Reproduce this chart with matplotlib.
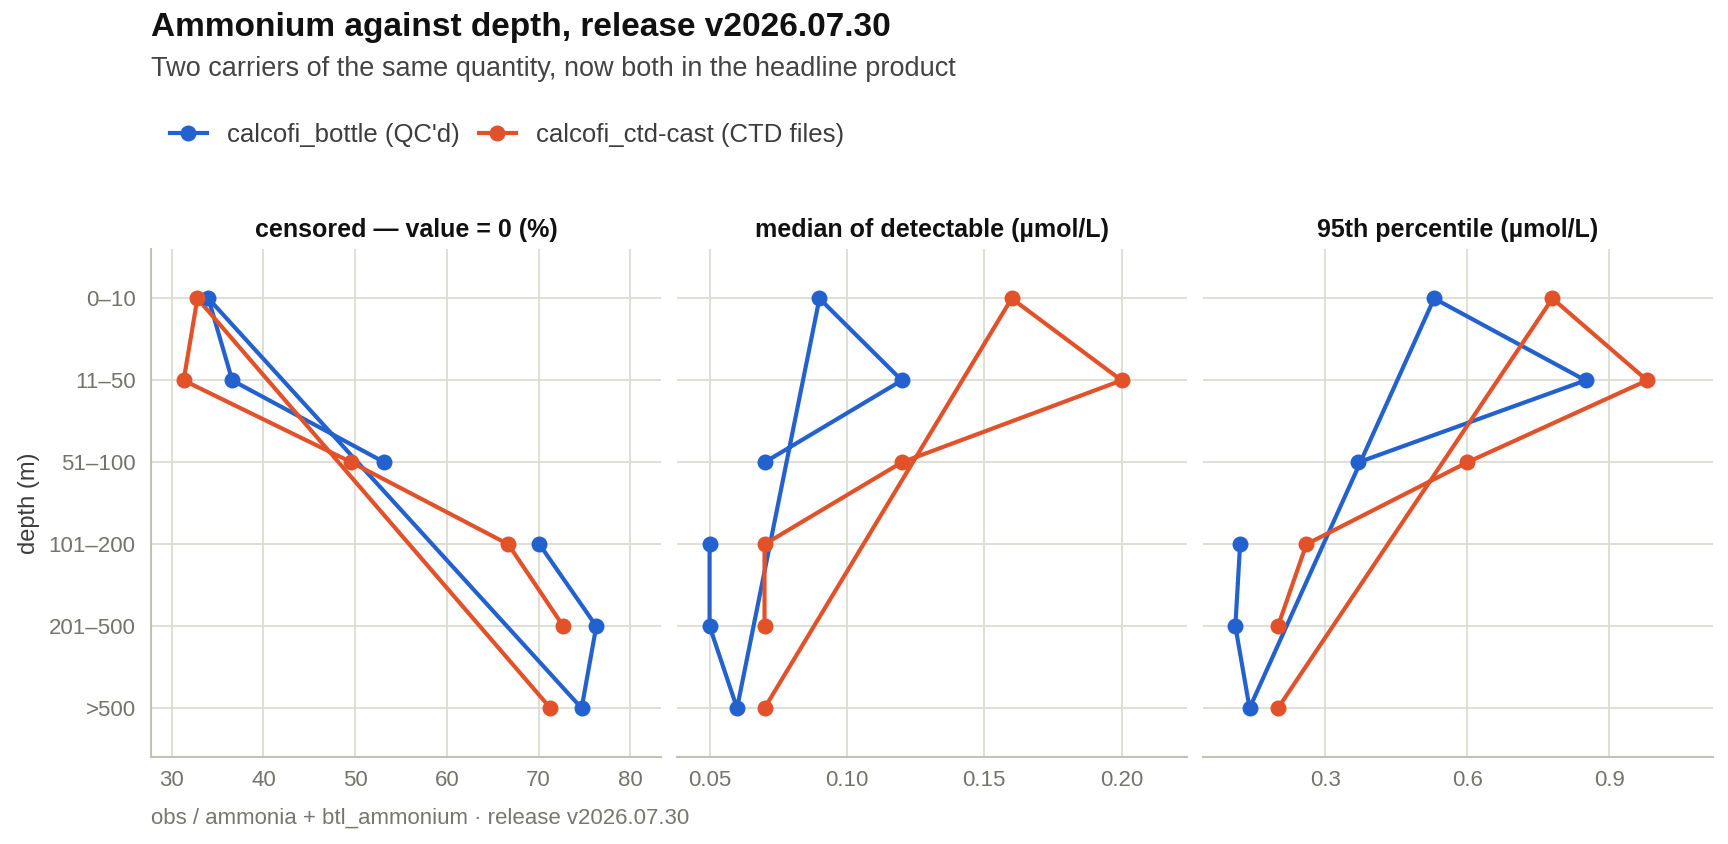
"""Ammonium against depth: two carriers, three summary panels."""

import matplotlib
matplotlib.use('Agg')
import matplotlib.pyplot as plt
from matplotlib.lines import Line2D

plt.rcParams['font.family'] = ['Liberation Sans', 'DejaVu Sans']

depth_bins = ['0–10', '11–50', '51–100', '101–200', '201–500', '>500']
# order in which each carrier's path visits the bins (as drawn in the source)
bottle_path = ['101–200', '201–500', '>500', '0–10', '11–50', '51–100']
ctd_path = ['>500', '0–10', '11–50', '51–100', '101–200', '201–500']

series_names = ["calcofi_bottle (QC'd)", 'calcofi_ctd-cast (CTD files)']
series_colors = ['#2361cf', '#e2522a']
series_paths = [bottle_path, ctd_path]

panel_titles = ['censored — value = 0 (%)',
                'median of detectable (µmol/L)',
                '95th percentile (µmol/L)']

censored_bottle = [34.0, 36.6, 53.2, 70.1, 76.3, 74.7]
censored_ctd = [32.8, 31.3, 49.6, 66.7, 72.7, 71.3]
median_bottle = [0.09, 0.12, 0.07, 0.05, 0.05, 0.06]
median_ctd = [0.16, 0.20, 0.12, 0.07, 0.07, 0.07]
p95_bottle = [0.53, 0.85, 0.37, 0.12, 0.11, 0.14]
p95_ctd = [0.78, 0.98, 0.60, 0.26, 0.20, 0.20]

x_ticks = [[30, 40, 50, 60, 70, 80], [0.05, 0.10, 0.15, 0.20], [0.3, 0.6, 0.9]]
x_ticklabels = [['30', '40', '50', '60', '70', '80'],
                ['0.05', '0.10', '0.15', '0.20'],
                ['0.3', '0.6', '0.9']]
x_limits = [(27.74, 83.39), (0.0381, 0.2239), (0.0412, 1.1194)]

panels = [(censored_bottle, censored_ctd),
          (median_bottle, median_ctd),
          (p95_bottle, p95_ctd)]

W, H = 1728, 844
grid_col = '#dcdcd2'
axis_col = '#c2c2b6'
tick_col = '#74746c'

fig = plt.figure(figsize=(W / 100, H / 100), dpi=100)

panel_left = [151, 676.9, 1202.8]
panel_w = 510.3
panel_top, panel_bot = 249.3, 757.3

ypos = {d: i for i, d in enumerate(depth_bins)}

for k, (vals, title) in enumerate(zip(panels, panel_titles)):
    ax = fig.add_axes([panel_left[k] / W, 1 - panel_bot / H,
                       panel_w / W, (panel_bot - panel_top) / H])
    for j, v in enumerate(vals):
        idx = [ypos[d] for d in series_paths[j]]
        ax.plot([v[i] for i in idx], idx, color=series_colors[j], lw=3.0,
                zorder=3, solid_capstyle='butt', solid_joinstyle='round')
    for j, v in enumerate(vals):
        ax.plot(v, range(len(depth_bins)), 'o', color=series_colors[j],
                ms=11.5, mew=0, zorder=4)

    ax.set_xlim(*x_limits[k])
    ax.set_ylim(len(depth_bins) - 0.4, -0.6)
    ax.set_xticks(x_ticks[k])
    ax.set_xticklabels(x_ticklabels[k])
    ax.set_yticks(range(len(depth_bins)))
    if k == 0:
        ax.set_yticklabels(depth_bins)
        ax.set_ylabel('depth (m)', fontsize=17, color='#3c3c3c', labelpad=6)
    else:
        ax.set_yticklabels([])
    ax.grid(True, color=grid_col, lw=1.3)
    ax.set_axisbelow(True)
    for s in ['top', 'right']:
        ax.spines[s].set_visible(False)
    ax.spines['bottom'].set_color(axis_col)
    ax.spines['bottom'].set_linewidth(1.5)
    if k == 0:
        ax.spines['left'].set_color(axis_col)
        ax.spines['left'].set_linewidth(1.5)
    else:
        ax.spines['left'].set_visible(False)
    ax.tick_params(length=0, labelsize=16, colors=tick_col)
    ax.tick_params(axis='x', pad=9)
    ax.tick_params(axis='y', pad=11)
    ax.set_title(title, fontsize=18, fontweight='bold', color='#111111', pad=9)

fig.text(150.7 / W, 1 - 36 / H, 'Ammonium against depth, release v2026.07.30',
         fontsize=24, fontweight='bold', color='#111111', va='baseline')
fig.text(150.7 / W, 1 - 76.5 / H,
         'Two carriers of the same quantity, now both in the headline product',
         fontsize=19.5, color='#444444', va='baseline')
fig.text(151 / W, 1 - 824 / H,
         'obs / ammonia + btl_ammonium · release v2026.07.30',
         fontsize=16, color='#77776f', va='baseline')

handles = [Line2D([], [], color=c, lw=3.0, marker='o', ms=11.5, mew=0)
           for c in series_colors]
fig.legend(handles, series_names, loc='center left',
           bbox_to_anchor=(170 / W, 1 - 135 / H), ncol=2, frameon=False,
           fontsize=18.5, labelcolor='#3c3c3c', borderpad=0, borderaxespad=0,
           handlelength=1.43, handletextpad=0.78, columnspacing=0.76)

fig.savefig('out.png', dpi=100)
